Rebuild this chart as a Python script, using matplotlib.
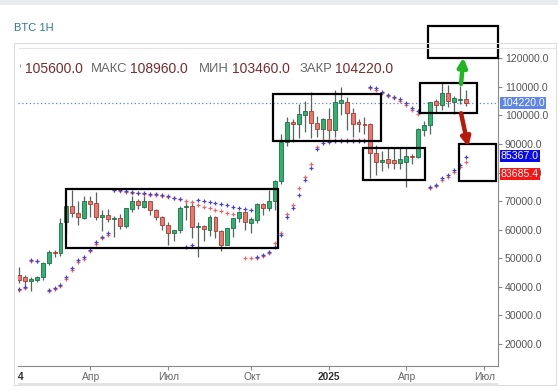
import numpy as np
import matplotlib
matplotlib.use("Agg")
import matplotlib.pyplot as plt
from matplotlib.patches import Rectangle
from matplotlib.transforms import Bbox, blended_transform_factory, ScaledTranslation
from matplotlib.lines import Line2D

plt.rcParams['font.family'] = ['Liberation Sans', 'DejaVu Sans']

# ---------------- data (weekly candles, 2024-01-08 .. 2025-06-16) ----------------
opens = [44200, 43400, 42100, 42400, 43300, 48200, 52300, 52000, 62600, 68300,
         65700, 64200, 70200, 69200, 64500, 65000, 63700, 64000, 61300, 67200,
         69900, 68100, 69900, 67000, 64500, 61700, 58800, 59900, 67900, 68300,
         61100, 61300, 59900, 64500, 59400, 54700, 60600, 64000, 66300, 62500,
         63400, 68900, 67500, 69900, 77200, 90800, 97800, 97000, 100200, 101700,
         97300, 95400, 98700, 94900, 104400, 104800, 100800, 97800, 97000, 96900,
         86700, 83800, 84900, 84400, 83500, 83800, 85700, 85300, 94900, 96700,
         105100, 103700, 108000, 104600, 105400, 105600]
highs = [47000, 44200, 43400, 43800, 48600, 52800, 53000, 64000, 69000, 73900,
         70000, 71800, 71800, 73300, 67000, 67200, 64700, 65500, 67700, 71900,
         70600, 71900, 70200, 67300, 64800, 62800, 60000, 68400, 69800, 70000,
         62700, 61800, 65100, 64900, 59800, 60700, 64100, 66500, 66500, 64400,
         69400, 69500, 73900, 77500, 93500, 99600, 98900, 104000, 105200, 108300,
         99900, 99000, 102700, 109000, 110000, 106400, 102500, 98800, 99500, 97500,
         89600, 87500, 88800, 88500, 88500, 89000, 86400, 95700, 97900, 104100,
         105800, 111800, 110700, 106800, 110400, 108960]
lows = [41500, 39600, 38600, 41800, 42300, 47700, 50600, 50900, 59000, 64600,
        61500, 63800, 64500, 63500, 59600, 62800, 57600, 60200, 60700, 66300,
        67100, 67600, 65100, 63400, 60000, 54700, 56000, 59000, 63500, 57100,
        50300, 56100, 57800, 57200, 52500, 54600, 57600, 62700, 59800, 58900,
        62300, 65100, 66700, 66800, 76000, 89400, 90800, 92000, 94200, 92200,
        92500, 91200, 91200, 92500, 100100, 94900, 92600, 94100, 93400, 78200,
        79200, 80500, 81600, 81300, 81300, 74800, 83000, 85100, 92900, 93400,
        100800, 102000, 103100, 100400, 104100, 103460]
closes = [42500, 42100, 42700, 43500, 48200, 52300, 52000, 62500, 68300, 65700,
          64500, 70200, 69000, 64500, 65000, 63700, 64000, 61300, 67500, 69900,
          68700, 69900, 67000, 64500, 61700, 58800, 59900, 67500, 68300, 61100,
          61300, 60100, 64500, 59400, 54700, 60600, 64000, 66300, 62800, 63600,
          68900, 67500, 69900, 77200, 90800, 97800, 96900, 100500, 101700, 97300,
          95400, 98700, 94900, 104800, 105400, 100800, 96900, 96900, 96500, 86700,
          83800, 84400, 83500, 83200, 84600, 85800, 85500, 95100, 96600, 104800,
          103700, 108000, 105000, 106000, 105600, 104220]

nan = np.nan
sar_blue = [39200, 40000, 49400, 49200, nan, 38900, 39500, 40700, 43300, 46500,
            49400, 50400, 52900, 55800, 57600, 58800, 73900, 73800, 73500, 73200,
            73000, 72800, 72600, 72400, 72100, 71700, 71200, 70700, 54000, 54600,
            70400, 70100, 69800, 69400, 69000, 68600, 68100, 67600, 67200, 66900,
            50600, 51200, 52300, 54000, 58200, 64600, 67600, 72000, 77400, 81700,
            88200, 90400, 90800, 91000, 91000, 91000, 91100, 91100, 91200, 110000,
            109500, 108300, 107200, 106600, 105800, 104300, 102500, 101400, nan, 75100,
            75700, 78100, 79200, 80900, 82600, 85367]
sar_red = [39000, 39700, 49000, 48900, nan, 38600, 39200, 40200, 42700, 45900,
           48600, 49900, 52400, 55100, 57100, 58100, 73800, 73600, 73300, 73000,
           72700, 72500, 72200, 72000, 71800, 71600, 71200, 70800, 70200, 69700,
           68700, 68000, 67500, 67000, 66500, 66000, 65600, nan, 50100, 50100,
           50200, 50800, 51800, 55400, 59000, 65500, 68500, 74600, 78500, 83000,
           89000, 91400, 91400, 91400, 91400, 91400, 91500, 91500, 91500, 109600,
           109000, 107800, 106700, 106000, 105200, 103700, 101800, 100600, nan, 74700,
           75200, 77400, 78600, 80200, 81900, 83685.4]

tick_idx = [-1, 12, 25, 39, 52, 65, 78]
tick_labels = ['2024', 'Апр', 'Июл', 'Окт', '2025', 'Апр', 'Июл']
tick_bold = [True, False, False, False, True, False, False]

# zones drawn on the chart: (first idx, last idx, low price, high price)
zones = [(7.87, 43.5, 53700, 74250),
         (42.6, 60.7, 91050, 107400),
         (57.7, 68.15, 77400, 88500),
         (67.3, 76.8, 100700, 111250),
         (68.6, 80.45, 120200, 131300),
         (73.9, 80.1, 77150, 90000)]
arrow_up = ((74.2, 111000), (74.6, 120300))
arrow_down = ((74.2, 100750), (75.4, 89000))

# ---------------- figure ----------------
W, H = 558, 391
fig = plt.figure(figsize=(W / 100, H / 100), dpi=100)
fig.patch.set_facecolor('white')

def fx(px):
    return px / W

def fy(py):
    return 1 - py / H

fig.patches.append(Rectangle((0, fy(5)), 1, 5 / H, transform=fig.transFigure,
                             facecolor='#e8ecef', edgecolor='none', zorder=0))
fig.patches.append(Rectangle((fx(14), fy(385)), fx(556 - 14), (385 - 43) / H,
                             transform=fig.transFigure, facecolor='none',
                             edgecolor='#dcdcdc', lw=0.8, zorder=0))
fig.lines.append(Line2D([fx(19), fx(556)], [fy(48), fy(48)], transform=fig.transFigure,
                        color='#e3e3e3', lw=0.8))
fig.patches.append(Rectangle((fx(18), fy(386)), fx(498 - 18), 3 / H, transform=fig.transFigure,
                             facecolor='#e3e3e3', edgecolor='none', zorder=0))

fig.text(fx(14), fy(28), 'BTC 1H', color='#2b7d8c', fontsize=8, va='center', ha='left')

ax = fig.add_axes([fx(18), fy(366), fx(498 - 18), (366 - 48) / H])
ax.set_facecolor('white')

n = len(closes)
xs = np.arange(n)
green_f, green_e = '#2db36e', '#1f6e47'
red_f, red_e = '#ea766c', '#a83a32'
for i in range(n):
    o, h, l, c = opens[i], highs[i], lows[i], closes[i]
    up = c >= o
    fcol = green_f if up else red_f
    ecol = green_e if up else red_e
    ax.vlines(xs[i], l, h, color='#56665e', lw=0.9, zorder=2)
    body = max(abs(c - o), 250)
    ax.bar(xs[i], body, bottom=min(o, c), width=0.66, color=fcol,
           edgecolor=ecol, linewidth=0.6, zorder=3)

ax.plot(xs, sar_red, linestyle='none', marker='+', ms=3.4, mew=0.9, color='#e86a6a', zorder=4)
ax.plot(xs, sar_blue, linestyle='none', marker='+', ms=3.4, mew=0.9, color='#4a46c8', zorder=4)

last = closes[-1]
ax.axhline(last, color='#5b80e6', lw=0.9, linestyle=(0, (1, 2)), zorder=1)

for (x0, x1, p0, p1) in zones:
    ax.add_patch(Rectangle((x0, p0), x1 - x0, p1 - p0, facecolor='none',
                           edgecolor='black', lw=1.6, zorder=6, clip_on=False))

ax.annotate('', xy=arrow_up[1], xytext=arrow_up[0],
            arrowprops=dict(arrowstyle='-|>', color='#22b522', lw=3.2, mutation_scale=13,
                            shrinkA=0, shrinkB=0), annotation_clip=False, zorder=7)
ax.annotate('', xy=arrow_down[1], xytext=arrow_down[0],
            arrowprops=dict(arrowstyle='-|>', color='#b8180c', lw=3.2, mutation_scale=13,
                            shrinkA=0, shrinkB=0), annotation_clip=False, zorder=7)

for s in ['left', 'top']:
    ax.spines[s].set_visible(False)
ax.spines['right'].set_color('#8a8a8a')
ax.spines['bottom'].set_color('#8a8a8a')
ax.yaxis.tick_right()
yt = np.arange(20000, 120001, 10000)
ax.set_yticks(yt)
ax.set_yticklabels([f'{v:.1f}' for v in yt])
ax.tick_params(axis='y', direction='out', length=3, color='#8a8a8a', labelsize=7.6,
               labelcolor='#555555', pad=2)
ax.set_xticks(tick_idx)
ax.set_xticklabels([])
ax.tick_params(axis='x', direction='out', length=3, color='#8a8a8a')
# limits set after the ticks so that off-screen ticks do not widen the view
ax.set_xlim(-0.13, 80.4)
ax.set_ylim(12300, 123600)

clipbb = Bbox([[18, 0], [W, H]])
for ti, lab, b in zip(tick_idx, tick_labels, tick_bold):
    t = ax.text(ti + 0.1, -0.036, lab, transform=blended_transform_factory(ax.transData, ax.transAxes),
                ha='center', va='center', fontsize=7.4,
                color='#333333' if b else '#666666', fontweight='bold' if b else 'normal',
                clip_on=True)
    t.set_clip_box(clipbb)

# header OHLC line: labels in grey, values in dark red, placed at measured pixel x
lab_col, val_col = '#666666', '#7a2c2c'
header = [('ОТКР', lab_col, 'right', 22, 9.4), (f'{opens[-1]:.1f}', val_col, 'left', 25, 10),
          ('МАКС', lab_col, 'right', 127, 9.4), (f'{highs[-1]:.1f}', val_col, 'left', 130, 10),
          ('МИН', lab_col, 'right', 229, 9.4), (f'{lows[-1]:.1f}', val_col, 'left', 232, 10),
          ('ЗАКР', lab_col, 'right', 332, 9.4), (f'{closes[-1]:.1f}', val_col, 'left', 335, 10)]
hb = Bbox([[19.5, 0], [W, H]])
for txt, col, ha, px, fs in header:
    t = ax.text((px - 18) / 480, 1 - (69 - 48) / 318, txt, transform=ax.transAxes,
                fontsize=fs, color=col, va='center', ha=ha, clip_on=True)
    t.set_clip_box(hb)

# price tags on the right axis
tagT = blended_transform_factory(ax.transAxes, ax.transData)
tags = [(last, f'{last:.1f}', '#5d86e8', 0),
        (sar_blue[-1], f'{sar_blue[-1]:.1f}', '#0a0aee', 0.01),
        (sar_red[-1], f'{sar_red[-1]:.1f}', '#fa1414', -0.12)]
for val, lab, bg, dy in tags:
    tr = tagT + ScaledTranslation(0, dy, fig.dpi_scale_trans)
    ax.text(1.006, val, lab, transform=tr, fontsize=7.6, color='white', ha='left', va='center',
            bbox=dict(boxstyle='square,pad=0.1', facecolor=bg, edgecolor='none'),
            clip_on=False, zorder=8)

fig.savefig('out.png', dpi=100)
